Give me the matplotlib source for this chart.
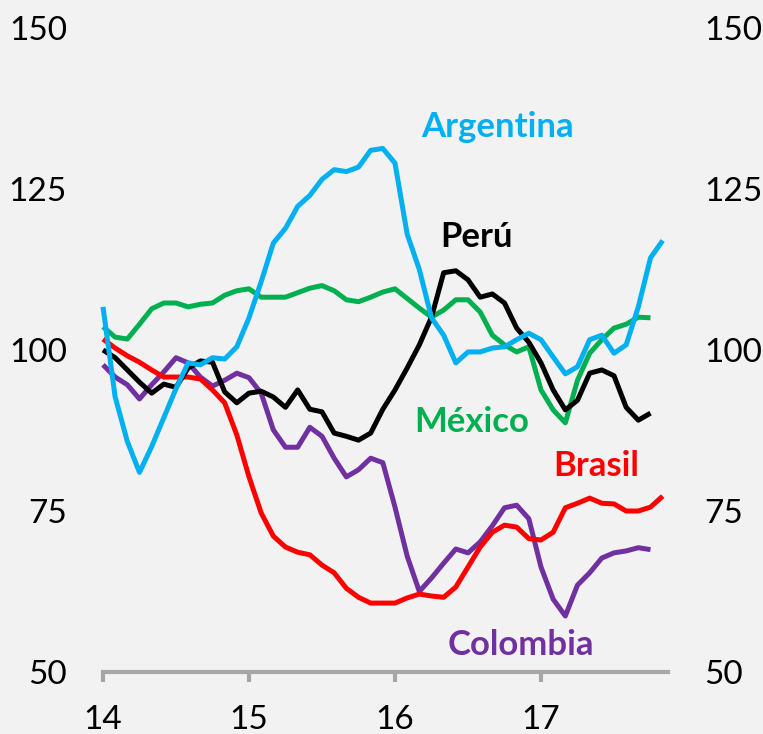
import matplotlib
matplotlib.use("Agg")
import matplotlib.pyplot as plt
import numpy as np

plt.rcParams['font.family'] = ['Lato', 'DejaVu Sans']

# monthly index, Jan 2014 onwards
argentina = [106.7, 92.7, 85.8, 81, 85, 89.5, 94, 98, 97.7, 98.8,
             98.6, 100.5, 105, 110.6, 116.6, 118.9, 122.3, 124, 126.5, 128,
             127.7, 128.4, 131, 131.3, 129, 118, 112.5, 105, 102.3, 98,
             99.7, 99.7, 100.3, 100.5, 101.6, 102.6, 101.6, 98.9, 96.3, 97.4,
             101.6, 102.3, 99.5, 100.8, 106.7, 114.3, 117]
mexico = [103.6, 102, 101.7, 104, 106.4, 107.3, 107.3, 106.7, 107.1, 107.3,
          108.5, 109.2, 109.5, 108.2, 108.2, 108.2, 108.9, 109.6, 110, 109.2,
          107.8, 107.5, 108.2, 109, 109.5, 108, 106.5, 105.1, 106.2, 107.8,
          107.8, 105.9, 102.3, 100.8, 99.7, 100.5, 93.8, 90.7, 88.7, 95.3,
          99.5, 101.6, 103.4, 104, 105.1, 105]
peru = [100, 98.8, 96.9, 95, 93.3, 94.7, 94.2, 97.2, 98.3, 98.1,
        93.5, 91.8, 93.3, 93.6, 92.7, 91.1, 93.8, 90.8, 90.4, 87.1,
        86.6, 86, 87.1, 90.8, 93.8, 97.2, 100.8, 105.1, 112, 112.3,
        110.9, 108.2, 108.7, 107.3, 103.4, 101.2, 98, 93.8, 90.7, 92.2,
        96.4, 96.9, 96, 91.1, 89.1, 90.2]
brasil = [101.7, 100.3, 99.1, 98.1, 96.9, 95.8, 95.8, 95.8, 95.5, 93.8,
          91.8, 86.8, 80.3, 74.7, 71.1, 69.4, 68.6, 68.2, 66.6, 65.4,
          63, 61.6, 60.7, 60.7, 60.7, 61.5, 62.1, 61.8, 61.6, 63.2,
          66.3, 69.4, 71.7, 72.8, 72.5, 70.7, 70.5, 71.7, 75.5, 76.2,
          77, 76.2, 76.1, 75, 75, 75.6, 77.3]
colombia = [97.7, 95.8, 94.6, 92.4, 94.6, 96.6, 98.8, 98, 95.8, 94.4,
            95.3, 96.4, 95.7, 93.3, 87.6, 84.9, 84.9, 88, 86.6, 83.2,
            80.3, 81.4, 83.2, 82.5, 75.6, 68, 62.5, 64.6, 66.9, 69.1,
            68.5, 70.2, 72.7, 75.5, 75.9, 73.8, 66.3, 61.3, 58.7, 63.5,
            65.4, 67.7, 68.5, 68.8, 69.3, 69]

year_ticks = [14, 15, 16, 17]
y_ticks = [50, 75, 100, 125, 150]

def months(vals):
    return 14 + np.arange(len(vals)) / 12

bg = '#f2f2f2'
fig = plt.figure(figsize=(7.63, 7.34), dpi=100, facecolor=bg)
ax = fig.add_axes([103/763, 1 - 672/734, 565/763, 644/734])
ax.set_facecolor(bg)

series = [
    (colombia, '#7030a0'),
    (brasil, '#ff0000'),
    (mexico, '#00b050'),
    (peru, '#000000'),
    (argentina, '#00b0f0'),
]
for vals, col in series:
    ax.plot(months(vals), vals, color=col, lw=3.6, clip_on=False,
            solid_joinstyle='round', solid_capstyle='butt')

ax.set_xlim(14, 14 + 565/146)
ax.set_ylim(50, 150)

for s in ['left', 'right', 'top']:
    ax.spines[s].set_visible(False)
ax.spines['bottom'].set_color('#a6a6a6')
ax.spines['bottom'].set_linewidth(3)

ax.set_xticks(year_ticks)
ax.set_xticklabels([str(t) for t in year_ticks])
ax.set_yticks(y_ticks)
ax.set_yticklabels([str(t) for t in y_ticks])
ax.tick_params(axis='x', direction='out', length=7.5, width=3,
               color='#a6a6a6', labelsize=24, pad=16)
ax.tick_params(axis='y', length=0, labelsize=24, pad=26,
               labelleft=True, labelright=True)

# series names
lab = dict(fontsize=25, fontweight='bold', ha='center', va='baseline')
ax.text(16.70, 133.1, 'Argentina', color='#00b0f0', **lab)
ax.text(16.555, 116.0, 'Perú', color='#000000', **lab)
ax.text(16.527, 87.3, 'México', color='#00b050', **lab)
ax.text(17.38, 80.4, 'Brasil', color='#ff0000', **lab)
ax.text(16.86, 52.6, 'Colombia', color='#7030a0', **lab)

fig.savefig('out.png', dpi=100, facecolor=bg)
